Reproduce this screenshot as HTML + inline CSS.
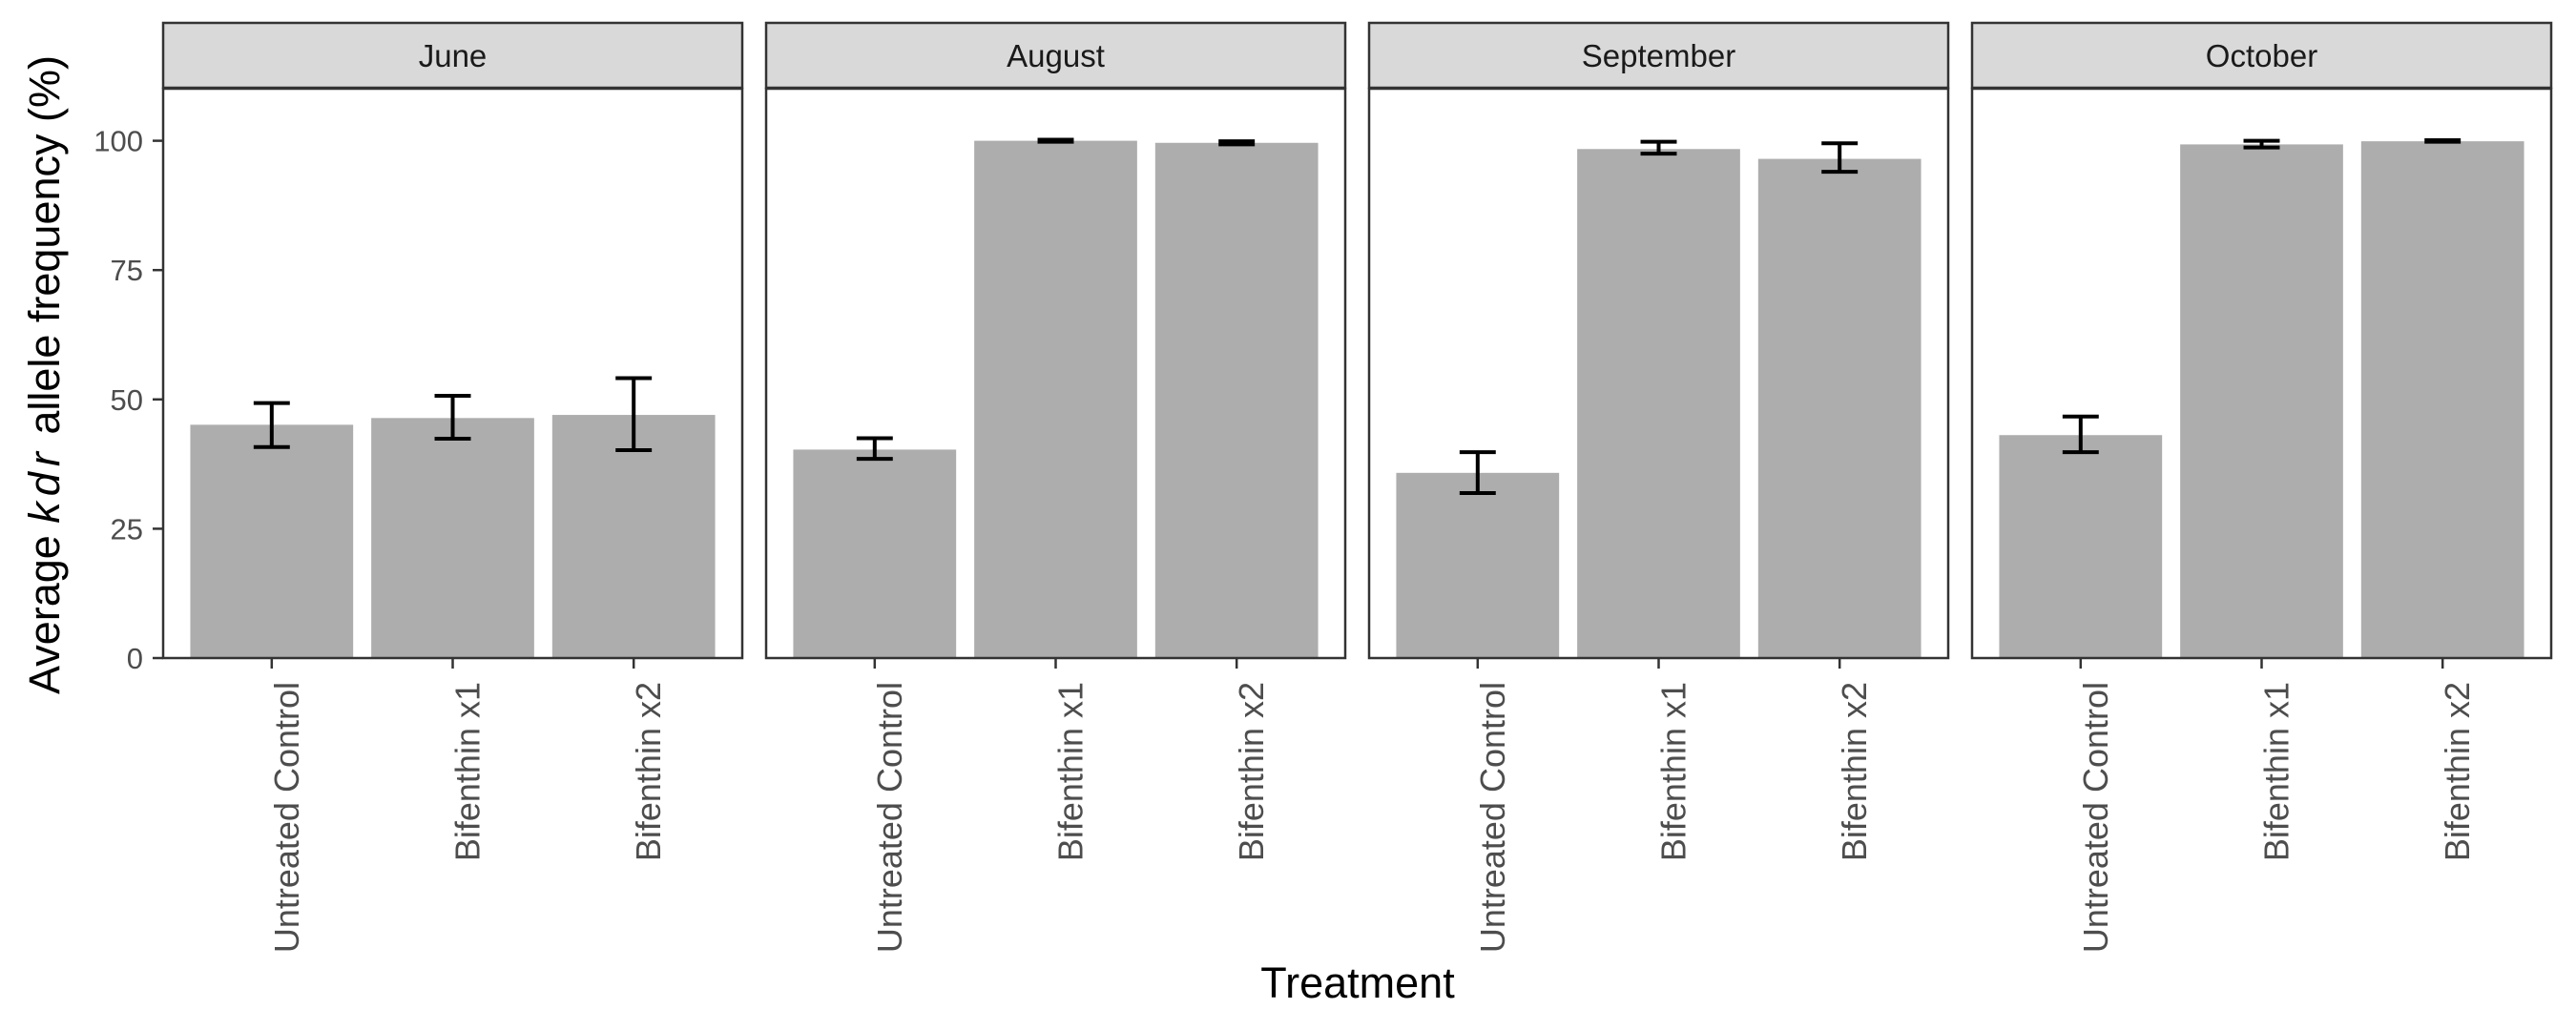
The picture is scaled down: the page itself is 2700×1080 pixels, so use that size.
<!DOCTYPE html>
<html><head><meta charset="utf-8"><style>
html,body{margin:0;padding:0;background:#fff;}
svg{display:block;font-family:"Liberation Sans",Arial,sans-serif;}
</style></head><body>
<svg id="chart" width="2700" height="1080" viewBox="0 0 2700 1080"></svg>
<script>
const months = ["June","August","September","October"];
const categories = ["Untreated Control","Bifenthin x1","Bifenthin x2"];
const meanJune = [45.1, 46.4, 47.0];
const lowJune = [40.8, 42.4, 40.2];
const highJune = [49.3, 50.7, 54.1];
const meanAugust = [40.3, 100.0, 99.6];
const lowAugust = [38.5, 99.8, 99.3];
const highAugust = [42.5, 100.2, 99.9];
const meanSeptember = [35.8, 98.4, 96.5];
const lowSeptember = [31.9, 97.5, 94.0];
const highSeptember = [39.8, 99.8, 99.5];
const meanOctober = [43.1, 99.3, 99.9];
const lowOctober = [39.8, 98.7, 99.8];
const highOctober = [46.7, 100.0, 100.1];
const yTicks = [0, 25, 50, 75, 100];
const yTickLabels = ["0","25","50","75","100"];

const means = [meanJune, meanAugust, meanSeptember, meanOctober];
const lows = [lowJune, lowAugust, lowSeptember, lowOctober];
const highs = [highJune, highAugust, highSeptember, highOctober];

const NS = "http://www.w3.org/2000/svg";
const svg = document.getElementById("chart");
function mk(tag, attrs, parent) {
  const e = document.createElementNS(NS, tag);
  for (const k in attrs) e.setAttribute(k, attrs[k]);
  (parent || svg).appendChild(e);
  return e;
}
const panelTop = 93, panelBottom = 690, stripTop = 24, stripBottom = 92;
const panelW = 607, panelGap = 25, firstLeft = 171;
const y0 = 690, pxPerUnit = (690 - 147.6) / 100;
function yScale(v) { return y0 - v * pxPerUnit; }
function panelLeft(i) { return firstLeft + i * (panelW + panelGap); }
function xScale(i, j) { const u = panelW / 3.2; return panelLeft(i) + (j + 1 - 0.4) * u; }
const unit = panelW / 3.2;

months.forEach((m, i) => {
  const L = panelLeft(i);
  const g = mk("g", {});
  
  
  const strip = mk("rect", {x: L, y: stripTop, width: panelW, height: stripBottom - stripTop, fill: "#d9d9d9", stroke: "#333333", "stroke-width": 2.5}, g);
  
  
  const st = mk("text", {x: L + panelW / 2, y: stripTop + 46, "text-anchor": "middle", "font-size": 33, fill: "#1a1a1a"}, g);
  st.textContent = m;
  
  
  const bg = mk("rect", {x: L, y: panelTop, width: panelW, height: panelBottom - panelTop, fill: "#fff"}, g);
  
  
  categories.forEach((c, j) => {
    const cx = xScale(i, j);
    const bw = unit * 0.9;
    const b = mk("rect", {x: cx - bw / 2, y: yScale(means[i][j]), width: bw, height: y0 - yScale(means[i][j]), fill: "#adadad"}, g);
    
    
    const cw = unit * 0.1;
    const eb = mk("path", {d: `M${cx - cw},${yScale(highs[i][j])}H${cx + cw}M${cx},${yScale(highs[i][j])}V${yScale(lows[i][j])}M${cx - cw},${yScale(lows[i][j])}H${cx + cw}`, stroke: "#000", "stroke-width": 4, fill: "none"}, g);
    
    
    const tk = mk("line", {x1: cx, x2: cx, y1: panelBottom, y2: panelBottom + 11, stroke: "#333", "stroke-width": 2.5}, g);
    
    
    const tl = mk("text", {transform: `translate(${cx + 28},715) rotate(-90)`, "text-anchor": "end", "font-size": 36, fill: "#4d4d4d"}, g);
    tl.textContent = c;
    
    
  });
  const border = mk("rect", {x: L, y: panelTop, width: panelW, height: panelBottom - panelTop, fill: "none", stroke: "#333333", "stroke-width": 2.5}, g);
  
  
});

yTicks.forEach((v, k) => {
  const y = yScale(v);
  const t = mk("line", {x1: 160, x2: 171, y1: y, y2: y, stroke: "#333", "stroke-width": 2.5});
  
  
  const tl = mk("text", {x: 150, y: y + 11, "text-anchor": "end", "font-size": 31, fill: "#4d4d4d"});
  tl.textContent = yTickLabels[k];
  
  
});

const yt = mk("text", {transform: "translate(62,393) rotate(-90)", "text-anchor": "middle", "font-size": 45, fill: "#000"});


yt.innerHTML = 'Average <tspan font-style="italic" letter-spacing="6">kdr</tspan> allele frequency (%)';
const xt = mk("text", {x: 1423, y: 1046, "text-anchor": "middle", "font-size": 45, fill: "#000"});
xt.textContent = "Treatment";


</script>
</body></html>
